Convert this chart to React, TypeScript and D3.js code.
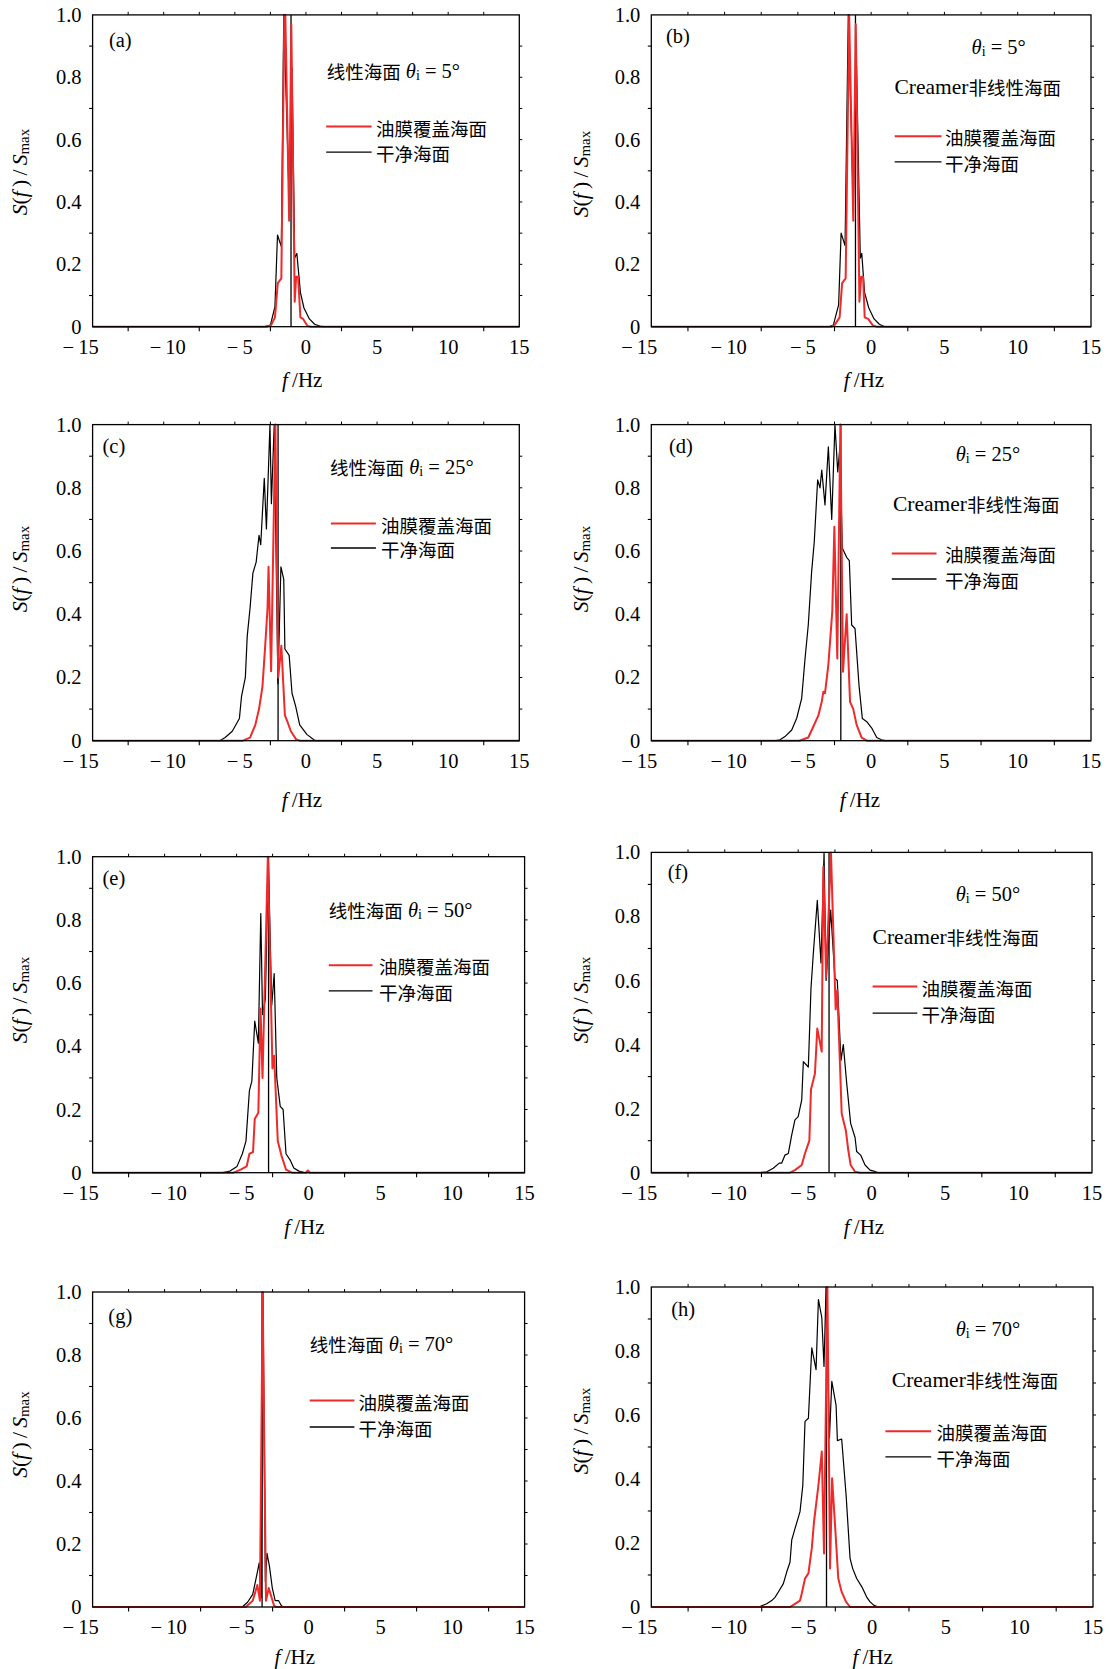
import React from "react";
import * as d3 from "d3";

type Pt = [number, number];

// ---------- axis / label data ----------
const xTickLabels = [-15, -10, -5, 0, 5, 10, 15];
const yTickLabels = [0, 0.2, 0.4, 0.6, 0.8, 1.0];
const xBottomTicks = [-12.5, -7.5, -2.5, 2.5, 7.5, 12.5];
const xTopTicks = [-12.5, -10, -7.5, -5, -2.5, 0, 2.5, 5, 7.5, 10, 12.5];
const yLeftTicks = [0.1, 0.3, 0.5, 0.7, 0.9];
const yRightTicks = [0.1, 0.2, 0.3, 0.4, 0.5, 0.6, 0.7, 0.8, 0.9];

const panelLetters = ["(a)", "(b)", "(c)", "(d)", "(e)", "(f)", "(g)", "(h)"];
const incidenceAngles = [5, 5, 25, 25, 50, 50, 70, 70];
const surfaceModels = ["线性海面", "Creamer非线性海面", "线性海面", "Creamer非线性海面", "线性海面", "Creamer非线性海面", "线性海面", "Creamer非线性海面"];
const braggFreqs = [-1.05, -1.07, -1.96, -2.07, -2.78, -2.9, -3.23, -3.1];
const legendLabels = ["油膜覆盖海面", "干净海面"];

// ---------- spectra (f in Hz, S/Smax) ----------
const cleanA: Pt[] = [[-15,0],[-2.9,0],[-2.5,0.005],[-2.18,0.064],[-2.0,0.294],[-1.73,0.257],[-1.56,1.0],[-1.18,0.41],[-0.98,0.83],[-0.79,0.22],[-0.64,0.235],[-0.39,0.11],[-0.14,0.06],[0.24,0.025],[0.61,0.008],[0.98,0.002],[1.23,0],[15,0]];
const oilA: Pt[] = [[-15,0],[-2.75,0],[-2.45,0.005],[-2.18,0.03],[-1.98,0.14],[-1.73,0.155],[-1.52,1.0],[-1.45,1.0],[-1.18,0.34],[-1.03,0.97],[-0.79,0.08],[-0.69,0.16],[-0.55,0.16],[-0.39,0.03],[-0.2,0.025],[0.11,0.002],[0.35,0],[15,0]];

const cleanB: Pt[] = [[-15,0],[-2.9,0],[-2.58,0.005],[-2.22,0.07],[-2.05,0.30],[-1.78,0.26],[-1.56,1.0],[-1.22,0.40],[-1.0,0.84],[-0.74,0.22],[-0.64,0.235],[-0.45,0.11],[-0.16,0.06],[0.2,0.025],[0.56,0.008],[0.93,0],[15,0]];
const oilB: Pt[] = [[-15,0],[-2.7,0],[-2.5,0.005],[-2.15,0.03],[-1.98,0.14],[-1.74,0.155],[-1.5,1.0],[-1.22,0.34],[-1.05,0.97],[-0.8,0.08],[-0.68,0.16],[-0.55,0.16],[-0.44,0.03],[-0.2,0.025],[0.1,0.005],[0.35,0],[15,0]];

const cleanC: Pt[] = [[-15,0],[-6.06,0],[-5.68,0.01],[-5.18,0.03],[-4.68,0.07],[-4.53,0.14],[-4.26,0.2],[-4.13,0.33],[-3.93,0.42],[-3.73,0.53],[-3.5,0.565],[-3.3,0.65],[-3.18,0.62],[-2.93,0.83],[-2.78,0.67],[-2.53,1.0],[-2.43,0.75],[-2.23,1.0],[-1.97,0.18],[-1.76,0.55],[-1.56,0.51],[-1.48,0.29],[-1.18,0.27],[-0.98,0.15],[-0.73,0.11],[-0.44,0.05],[0.06,0.02],[0.56,0.003],[0.69,0],[15,0]];
const oilC: Pt[] = [[-15,0],[-4.43,0],[-3.93,0.01],[-3.56,0.05],[-3.3,0.1],[-3.06,0.17],[-2.88,0.29],[-2.7,0.42],[-2.63,0.55],[-2.45,0.22],[-2.15,1.0],[-1.95,0.2],[-1.73,0.3],[-1.48,0.08],[-1.3,0.06],[-1.06,0.03],[-0.7,0.005],[-0.44,0],[15,0]];

const cleanD: Pt[] = [[-15,0],[-6.5,0],[-6.22,0.003],[-5.88,0.013],[-5.42,0.034],[-5.08,0.071],[-4.74,0.134],[-4.51,0.26],[-4.29,0.366],[-4.06,0.535],[-3.88,0.63],[-3.65,0.825],[-3.49,0.80],[-3.37,0.856],[-3.15,0.746],[-2.92,0.93],[-2.69,0.70],[-2.47,1.0],[-2.28,0.85],[-2.13,0.93],[-1.97,0.61],[-1.67,0.58],[-1.49,0.57],[-1.33,0.366],[-1.1,0.355],[-0.83,0.176],[-0.6,0.07],[-0.3,0.06],[0.04,0.04],[0.38,0.01],[0.7,0.003],[0.95,0],[15,0]];
const oilD: Pt[] = [[-15,0],[-4.9,0],[-4.29,0.01],[-3.95,0.044],[-3.6,0.08],[-3.37,0.123],[-3.26,0.155],[-3.15,0.15],[-2.92,0.24],[-2.65,0.41],[-2.51,0.677],[-2.31,0.26],[-2.1,1.0],[-1.92,0.218],[-1.67,0.4],[-1.44,0.123],[-1.22,0.1],[-0.99,0.05],[-0.65,0.01],[-0.3,0],[15,0]];

const cleanE: Pt[] = [[-15,0],[-5.95,0],[-5.46,0.005],[-4.97,0.02],[-4.6,0.06],[-4.35,0.1],[-4.11,0.26],[-3.94,0.29],[-3.74,0.48],[-3.49,0.41],[-3.32,0.82],[-3.2,0.5],[-3.0,0.55],[-2.8,1.0],[-2.56,0.53],[-2.39,0.63],[-2.21,0.3],[-1.97,0.21],[-1.77,0.2],[-1.57,0.06],[-1.28,0.04],[-1.03,0.015],[-0.67,0.005],[-0.3,0],[15,0]];
const oilE: Pt[] = [[-15,0],[-5.21,0],[-4.72,0.01],[-4.3,0.02],[-4.11,0.06],[-3.86,0.065],[-3.74,0.17],[-3.49,0.19],[-3.34,0.52],[-3.2,0.3],[-2.83,1.0],[-2.51,0.33],[-2.39,0.37],[-2.14,0.1],[-1.89,0.055],[-1.57,0.01],[-1.16,0],[-0.2,0],[-0.05,0.007],[0.1,0],[15,0]];

const cleanF: Pt[] = [[-15,0],[-7.6,0],[-7.14,0.003],[-6.7,0.014],[-6.29,0.03],[-6.12,0.03],[-5.9,0.055],[-5.67,0.06],[-5.44,0.118],[-5.22,0.165],[-5.0,0.175],[-4.76,0.227],[-4.65,0.347],[-4.31,0.33],[-4.13,0.575],[-3.97,0.685],[-3.7,0.85],[-3.45,0.655],[-3.24,1.0],[-3.1,0.6],[-2.79,0.82],[-2.5,0.607],[-2.34,0.60],[-2.09,0.35],[-1.93,0.4],[-1.7,0.28],[-1.43,0.154],[-1.13,0.11],[-1.02,0.066],[-0.75,0.055],[-0.45,0.024],[-0.11,0.008],[0.15,0.005],[0.45,0],[15,0]];
const oilF: Pt[] = [[-15,0],[-5.56,0],[-5.22,0.008],[-4.76,0.024],[-4.54,0.06],[-4.24,0.1],[-4.13,0.26],[-3.86,0.31],[-3.7,0.45],[-3.4,0.378],[-3.29,0.955],[-3.1,0.61],[-2.77,1.0],[-2.45,0.51],[-2.34,0.57],[-2.15,0.33],[-2.04,0.185],[-1.75,0.13],[-1.59,0.07],[-1.43,0.024],[-1.13,0.003],[-0.79,0],[15,0]];

const cleanG: Pt[] = [[-15,0],[-4.61,0],[-4.24,0.015],[-3.88,0.04],[-3.56,0.11],[-3.43,0.14],[-3.3,0.03],[-3.17,1.0],[-3.0,0.08],[-2.89,0.17],[-2.72,0.13],[-2.52,0.06],[-2.32,0.02],[-2.08,0.02],[-1.9,0.005],[-1.78,0],[15,0]];
const oilG: Pt[] = [[-15,0],[-4.37,0],[-3.88,0.02],[-3.56,0.07],[-3.38,0.02],[-3.19,1.0],[-2.96,0.02],[-2.77,0.06],[-2.57,0.03],[-2.4,0.005],[-2.28,0],[15,0]];

const cleanH: Pt[] = [[-15,0],[-7.7,0],[-7.16,0.01],[-6.82,0.02],[-6.6,0.03],[-6.37,0.047],[-6.03,0.073],[-5.8,0.11],[-5.58,0.14],[-5.46,0.21],[-5.24,0.245],[-4.9,0.298],[-4.71,0.38],[-4.56,0.58],[-4.33,0.59],[-4.1,0.81],[-3.81,0.742],[-3.65,0.961],[-3.42,0.904],[-3.27,0.752],[-3.13,1.0],[-2.9,0.528],[-2.74,0.705],[-2.45,0.63],[-2.36,0.52],[-2.07,0.525],[-1.77,0.35],[-1.5,0.152],[-1.32,0.12],[-1.05,0.089],[-0.7,0.063],[-0.37,0.031],[-0.14,0.016],[0.1,0.006],[0.4,0],[15,0]];
const oilH: Pt[] = [[-15,0],[-5.58,0],[-5.24,0.01],[-4.9,0.02],[-4.78,0.042],[-4.56,0.089],[-4.33,0.105],[-4.1,0.183],[-3.95,0.266],[-3.65,0.38],[-3.42,0.486],[-3.27,0.167],[-3.04,1.0],[-2.86,0.12],[-2.72,0.402],[-2.52,0.256],[-2.3,0.089],[-2.07,0.047],[-1.77,0.016],[-1.5,0],[15,0]];

const cleanSeries = [cleanA, cleanB, cleanC, cleanD, cleanE, cleanF, cleanG, cleanH];
const oilSeries = [oilA, oilB, oilC, oilD, oilE, oilF, oilG, oilH];

// ---------- layout (pixel positions, styles) ----------
type Layout = {
  L: number; R: number; T: number; B: number;
  letter: [number, number];
  t1: [number, number];
  t2?: [number, number];
  leg: [number, number, number, number, number]; // x0, x1, y1, y2, textX
  yLab: [number, number];
  xLab: [number, number];
};

const layouts: Layout[] = [
  { L: 92.6, R: 519.3, T: 14.9, B: 326.7, letter: [120.3, 40.4], t1: [326.7, 71.3], leg: [326.2, 371.6, 126.6, 152.2, 375.9], yLab: [20.2, 172], xLab: [302.2, 380] },
  { L: 651.3, R: 1091, T: 14.9, B: 326.7, letter: [677.9, 36.2], t1: [971.6, 46.8], t2: [894.5, 87.3], leg: [894.7, 941.5, 136.2, 161.8, 945], yLab: [581, 174], xLab: [864, 380] },
  { L: 92.6, R: 519.3, T: 424.6, B: 740.7, letter: [113.9, 445.9], t1: [330, 467.2], leg: [330.9, 375.9, 523.6, 548, 381], yLab: [20.2, 569], xLab: [302, 800] },
  { L: 651.3, R: 1091, T: 424.6, B: 740.7, letter: [681, 446], t1: [955.7, 454.4], t2: [892.9, 504.4], leg: [891.8, 936.5, 553.4, 579, 945], yLab: [581, 569], xLab: [860, 800] },
  { L: 92.6, R: 524.6, T: 856.7, B: 1172.7, letter: [113.9, 878], t1: [328.8, 909.9], leg: [328.8, 372.5, 965.2, 990.8, 378.9], yLab: [20.2, 1000], xLab: [304.4, 1227] },
  { L: 651.3, R: 1092, T: 852.4, B: 1172.7, letter: [677.9, 871.6], t1: [955.7, 894], t2: [872.6, 936.5], leg: [872.6, 917.3, 986.5, 1013.1, 921.6], yLab: [581, 1000], xLab: [864, 1227] },
  { L: 92.6, R: 524.6, T: 1292, B: 1607, letter: [120.3, 1316.4], t1: [309.7, 1344.1], leg: [309.7, 354.4, 1400.5, 1427, 358.6], yLab: [20.2, 1434.5], xLab: [294.8, 1657] },
  { L: 651.3, R: 1093, T: 1287, B: 1607, letter: [683.2, 1309], t1: [955.7, 1329.2], t2: [891.8, 1380.3], leg: [885.4, 931.2, 1431.3, 1456.9, 936.5], yLab: [581, 1431], xLab: [872.6, 1657] },
];

const SERIF = "'Liberation Serif','DejaVu Serif',serif";
const CJK = "'Noto Sans CJK SC','Noto Sans CJK JP',sans-serif";
const RED = "#ee2a2a";
const FS = 20.5;
const CJK_FS = 18.5;
const labelDx: Record<number, number> = { [-15]: -12, [-10]: 4, [-5]: 5 };

function fmtX(v: number) {
  return v < 0 ? "\u2212\u2009" + Math.abs(v) : String(v);
}

function Theta({ angle }: { angle: number }) {
  return (
    <>
      <tspan fontFamily={SERIF} fontStyle="italic">θ</tspan>
      <tspan fontFamily={SERIF} fontSize={14} dy={4}>i</tspan>
      <tspan fontFamily={SERIF} dy={-4}>{" = " + angle + "°"}</tspan>
    </>
  );
}

function Panel({ idx }: { idx: number }) {
  const lay = layouts[idx];
  const x = d3.scaleLinear().domain([-15, 15]).range([lay.L, lay.R]);
  const y = d3.scaleLinear().domain([0, 1]).range([lay.B, lay.T]);
  const line = d3.line<Pt>().x((d) => x(d[0])).y((d) => y(d[1]));
  const isCreamer = surfaceModels[idx].startsWith("Creamer");
  const [lx0, lx1, ly1, ly2, ltx] = lay.leg;

  return (
    <g>
      {/* curves */}
      <path d={line(cleanSeries[idx]) || ""} fill="none" stroke="#000" strokeWidth={1.2} strokeLinejoin="round" />
      <line x1={x(braggFreqs[idx])} x2={x(braggFreqs[idx])} y1={y(0)} y2={y(1)} stroke="#000" strokeWidth={1.3} />
      <path d={line(oilSeries[idx]) || ""} fill="none" stroke={RED} strokeWidth={2} strokeLinejoin="round" />

      {/* frame */}
      <rect x={lay.L} y={lay.T} width={lay.R - lay.L} height={lay.B - lay.T} fill="none" stroke="#000" strokeWidth={1.3} />

      {/* ticks */}
      {xBottomTicks.map((t) => (
        <line key={"xb" + t} x1={x(t)} x2={x(t)} y1={lay.B} y2={lay.B + 4.5} stroke="#000" strokeWidth={1.1} />
      ))}
      {xTopTicks.map((t) => (
        <line key={"xt" + t} x1={x(t)} x2={x(t)} y1={lay.T} y2={lay.T - 3} stroke="#000" strokeWidth={1} />
      ))}
      {yLeftTicks.map((t) => (
        <line key={"yl" + t} x1={lay.L} x2={lay.L - 3.5} y1={y(t)} y2={y(t)} stroke="#000" strokeWidth={1.1} />
      ))}
      {yRightTicks.map((t) => (
        <line key={"yr" + t} x1={lay.R} x2={lay.R + 3} y1={y(t)} y2={y(t)} stroke="#000" strokeWidth={1} />
      ))}

      {/* tick labels */}
      {xTickLabels.map((t) => (
        <text key={"xl" + t} x={x(t) + (labelDx[t] || 0)} y={lay.B + 20} textAnchor="middle" dominantBaseline="central" fontFamily={SERIF} fontSize={FS} style={{ whiteSpace: "pre" }}>
          {fmtX(t)}
        </text>
      ))}
      {yTickLabels.map((t) => (
        <text key={"yl" + t} x={lay.L - 11} y={y(t)} textAnchor="end" dominantBaseline="central" fontFamily={SERIF} fontSize={FS}>
          {t === 0 ? "0" : t.toFixed(1)}
        </text>
      ))}

      {/* axis titles */}
      <text x={lay.xLab[0]} y={lay.xLab[1]} textAnchor="middle" dominantBaseline="central" fontFamily={SERIF} fontSize={21} style={{ whiteSpace: "pre" }}>
        <tspan fontStyle="italic">f</tspan>
        <tspan>{"\u2009/Hz"}</tspan>
      </text>
      <text transform={`translate(${lay.yLab[0]},${lay.yLab[1]}) rotate(-90)`} textAnchor="middle" dominantBaseline="central" fontFamily={SERIF} fontSize={21.5} style={{ whiteSpace: "pre" }}>
        <tspan fontStyle="italic">S</tspan>
        <tspan>(</tspan>
        <tspan fontStyle="italic">f</tspan>
        <tspan>{"\u2009)\u2009/\u2009"}</tspan>
        <tspan fontStyle="italic">S</tspan>
        <tspan fontSize={15} dy={4}>max</tspan>
      </text>

      {/* panel letter */}
      <text x={lay.letter[0]} y={lay.letter[1]} textAnchor="middle" dominantBaseline="central" fontFamily={SERIF} fontSize={FS}>
        {panelLetters[idx]}
      </text>

      {/* annotations */}
      {isCreamer ? (
        <>
          <text x={lay.t1[0]} y={lay.t1[1]} dominantBaseline="central" fontFamily={SERIF} fontSize={FS} style={{ whiteSpace: "pre" }}>
            <Theta angle={incidenceAngles[idx]} />
          </text>
          <text x={lay.t2![0]} y={lay.t2![1]} dominantBaseline="central" fontSize={FS} style={{ whiteSpace: "pre" }}>
            <tspan fontFamily={SERIF} fontSize={21.5}>Creamer</tspan>
            <tspan fontFamily={CJK} fontSize={CJK_FS}>{surfaceModels[idx].replace("Creamer", "")}</tspan>
          </text>
        </>
      ) : (
        <text x={lay.t1[0]} y={lay.t1[1]} dominantBaseline="central" fontSize={FS} style={{ whiteSpace: "pre" }}>
          <tspan fontFamily={CJK} fontSize={CJK_FS}>{surfaceModels[idx]}</tspan>
          <tspan fontFamily={SERIF}>{" "}</tspan>
          <Theta angle={incidenceAngles[idx]} />
        </text>
      )}

      {/* legend */}
      <line x1={lx0} x2={lx1} y1={ly1} y2={ly1} stroke={RED} strokeWidth={2} />
      <text x={ltx} y={ly1 + 1} dominantBaseline="central" fontFamily={CJK} fontSize={CJK_FS}>{legendLabels[0]}</text>
      <line x1={lx0} x2={lx1} y1={ly2} y2={ly2} stroke="#000" strokeWidth={1.3} />
      <text x={ltx} y={ly2 + 1} dominantBaseline="central" fontFamily={CJK} fontSize={CJK_FS}>{legendLabels[1]}</text>
    </g>
  );
}

export default function App() {
  return (
    <div style={{ position: "absolute", left: 0, top: 0 }}>
      <svg width={1110} height={1669} viewBox="0 0 1110 1669" style={{ display: "block", background: "#fff" }}>
        {layouts.map((_, i) => (
          <Panel key={i} idx={i} />
        ))}
      </svg>
    </div>
  );
}
